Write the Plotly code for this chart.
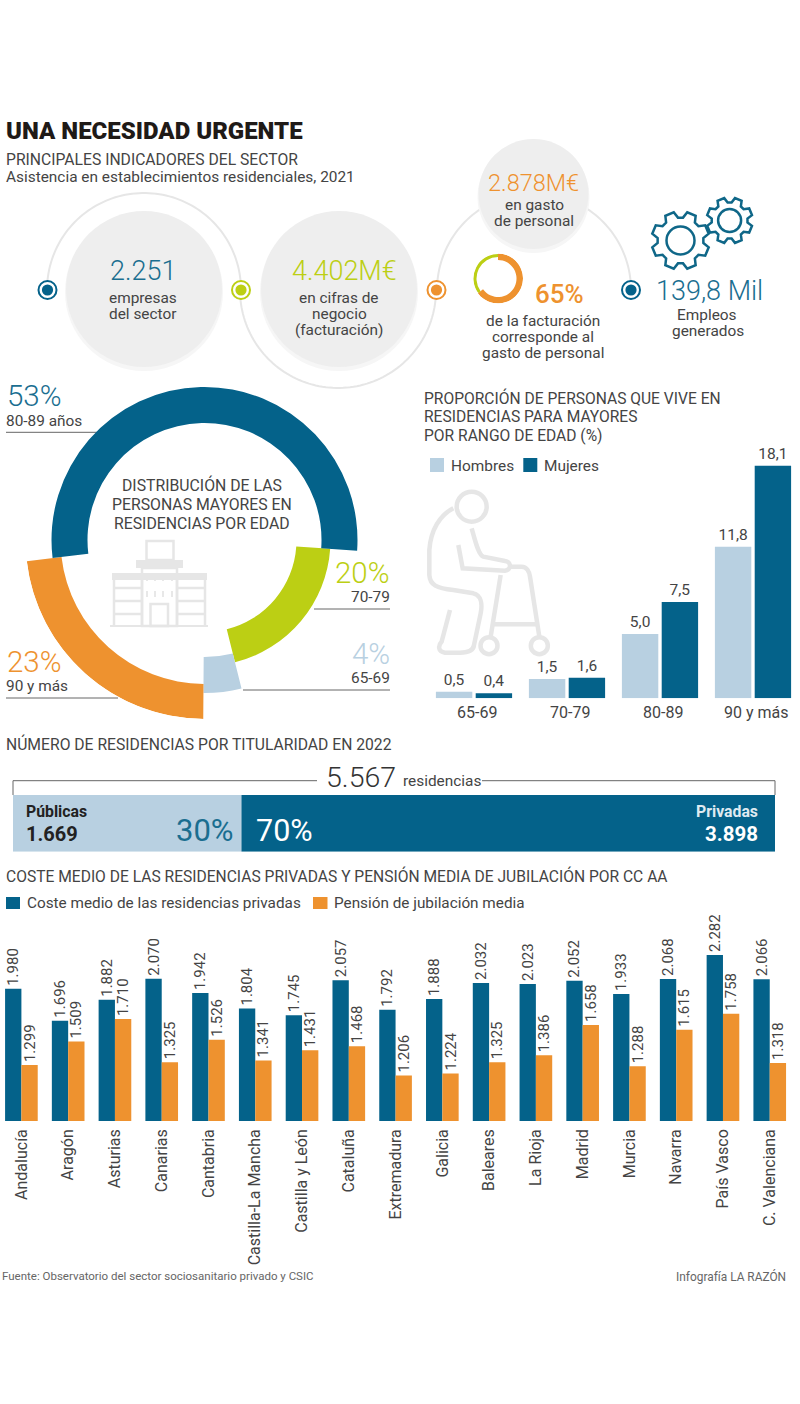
import numpy as np
import plotly.graph_objects as go

# ---------- data ----------
ring_labels = ["80-89", "70-79", "65-69", "90 y más"]
ring_shares = [53, 20, 4, 23]
ring_start_deg = 94
ring_inner = [117, 92, 117, 144]
ring_outer = [153, 126, 153, 179]

gasto_shares = [65, 35]

age_groups = ["65-69", "70-79", "80-89", "90 y más"]
hombres = [0.5, 1.5, 5.0, 11.8]
mujeres = [0.4, 1.6, 7.5, 18.1]

titular_names = ["Públicas", "Privadas"]
titular_values = [1669, 3898]

ccaa = ["Andalucía", "Aragón", "Asturias", "Canarias", "Cantabria", "Castilla-La Mancha",
        "Castilla y León", "Cataluña", "Extremadura", "Galicia", "Baleares", "La Rioja",
        "Madrid", "Murcia", "Navarra", "País Vasco", "C. Valenciana"]
coste = [1980, 1696, 1882, 2070, 1942, 1804, 1745, 2057, 1792, 1888, 2032, 2023, 2052, 1933, 2068, 2282, 2066]
pension = [1299, 1509, 1710, 1325, 1526, 1341, 1431, 1468, 1206, 1224, 1325, 1386, 1658, 1288, 1615, 1758, 1318]

# ---------- style ----------
W, H = 800, 1404
BLUE, GREEN, ORANGE, LIGHT = "#04628a", "#bccf14", "#ee922f", "#b8d0e1"
NUMBLUE = "#1a6e90"
TXT, DARK = "#444444", "#1f1a17"
GREY, ICON = "#eeeeee", "#e6e6e6"
FONT = "Roboto"
BODY = 15.4
HEAD = 15.7


def thou(v):
    return f"{v:,}".replace(",", ".")


def comma(v):
    return f"{v:.1f}".replace(".", ",")


shapes, annots = [], []


def T(x, y, s, size=BODY, color=TXT, anchor="left", weight=None):
    font = dict(family=FONT, size=size, color=color)
    if weight:
        font["weight"] = weight
    annots.append(dict(x=x, y=y, xref="x9", yref="y9", text=s, showarrow=False, xanchor=anchor,
                       yanchor="middle", borderpad=0, borderwidth=0, font=font))


def S(kind, x0, y0, x1, y1, fill=None, line=None, lw=0):
    d = dict(type=kind, xref="x9", yref="y9", x0=x0, y0=y0, x1=x1, y1=y1, layer="below",
             line=dict(width=lw, color=line or "rgba(0,0,0,0)"))
    if fill:
        d["fillcolor"] = fill
    shapes.append(d)


def C(cx, cy, r, fill=None, line=None, lw=0, ry=None):
    ry = ry or r
    S("circle", cx - r, cy - ry, cx + r, cy + ry, fill, line, lw)


def R(x0, y0, x1, y1, fill):
    S("rect", x0, y0, x1, y1, fill)


def L(x0, y0, x1, y1, color="#666666", lw=1):
    S("line", x0, y0, x1, y1, None, color, lw)


def PATH(d, color, lw, fill=None):
    s = dict(type="path", xref="x9", yref="y9", path=d, layer="below",
             line=dict(color=color, width=lw))
    if fill:
        s["fillcolor"] = fill
    shapes.append(s)


def arc(cx, cy, r, a0, a1):
    t = np.radians(np.linspace(a0, a1, 90))
    return "M" + " L".join(f"{cx + r * np.cos(a):.2f},{cy - r * np.sin(a):.2f}" for a in t)


def gear(cx, cy, ro, ri, n=8):
    pts = []
    w = 2 * np.pi / n
    for k in range(n):
        a = k * w + w / 2
        for off, r in [(-0.36, ri), (-0.2, ro), (0.2, ro), (0.36, ri)]:
            pts.append((cx + r * np.cos(a + off * w), cy + r * np.sin(a + off * w)))
    return "M" + " L".join(f"{x:.2f},{y:.2f}" for x, y in pts) + " Z"


def Z3(segs):
    out = []
    for seg in segs:
        letter, nums = seg[0], seg[1:]
        xy = [410 + v / 3 if i % 2 == 0 else 380 + v / 3 for i, v in enumerate(nums)]
        out.append(letter + " ".join(f"{v:.2f}" for v in xy))
    return " ".join(out)


# ---------- header ----------
T(6, 131, "UNA NECESIDAD URGENTE", 24, DARK, weight=900)
T(6, 159, "PRINCIPALES INDICADORES DEL SECTOR", HEAD)
T(6, 177, "Asistencia en establecimientos residenciales, 2021", BODY)

# ---------- indicator row ----------
PATH(arc(144, 290, 97, 0, 180), "#e6e6e6", 2)
PATH(arc(338, 290, 98, 180, 360), "#e6e6e6", 2)
PATH(arc(534, 290, 97, 0, 180), "#e6e6e6", 2)
for cx, cy, r in [(144, 289, 78), (339, 289, 78), (533.5, 194, 55)]:
    C(cx, cy + 3, r + 1, "#f6f6f6")
    C(cx, cy, r, GREY)
for cx, col in [(47.5, BLUE), (241, GREEN), (436.5, ORANGE), (631, BLUE)]:
    C(cx, 290, 9, "#ffffff", col, 2)
    C(cx, 290, 5.6, col)
PATH(gear(680.5, 240.5, 29, 23), "#0f6788", 2.5)
C(680.5, 240.5, 14, None, "#0f6788", 2.5)
PATH(gear(729.6, 220.5, 23, 18), "#0f6788", 2.5)
C(729.6, 220.5, 11.5, None, "#0f6788", 2.5)

T(142.5, 271, "2.251", 27, NUMBLUE, "center", 300)
T(142.5, 298, "empresas", BODY, TXT, "center")
T(142.5, 314, "del sector", BODY, TXT, "center")
T(344.5, 271, "4.402M€", 27, GREEN, "center", 300)
T(339, 298, "en cifras de", BODY, TXT, "center")
T(339, 314, "negocio", BODY, TXT, "center")
T(339, 330, "(facturación)", BODY, TXT, "center")
T(533, 183, "2.878M€", 23.5, ORANGE, "center", 300)
T(534, 205, "en gasto", BODY, TXT, "center")
T(534, 221, "de personal", BODY, TXT, "center")
T(559, 294, "65%", 26, ORANGE, "center", 500)
T(543, 321, "de la facturación", BODY, TXT, "center")
T(543, 337, "corresponde al", BODY, TXT, "center")
T(543, 353, "gasto de personal", BODY, TXT, "center")
T(709, 291, "139,8 Mil", 27, NUMBLUE, "center", 300)
T(707, 315, "Empleos", BODY, TXT, "center")
T(708, 331, "generados", BODY, TXT, "center")

# ---------- ring labels and building icon ----------
T(6.5, 396, "53%", 29.5, NUMBLUE, weight=300)
T(6, 421, "80-89 años")
L(6, 432.3, 97, 432.3)
T(390, 572.7, "20%", 29.5, GREEN, "right", 300)
T(390, 597, "70-79", BODY, TXT, "right")
L(314, 609, 390, 609)
T(390, 654, "4%", 29.5, LIGHT, "right", 300)
T(390, 678, "65-69", BODY, TXT, "right")
L(243, 690, 390, 690)
T(6.5, 661.7, "23%", 29.5, ORANGE, weight=300)
T(6, 686, "90 y más")
L(6, 698, 118, 698)
T(202, 485, "DISTRIBUCIÓN DE LAS", 15.8, TXT, "center")
T(202, 504, "PERSONAS MAYORES EN", 15.8, TXT, "center")
T(202, 523, "RESIDENCIAS POR EDAD", 15.8, TXT, "center")

S("rect", 146.5, 541, 173.5, 560, None, ICON, 2.5)
R(136, 560, 183, 568, ICON)
R(112, 573, 207, 580, ICON)
S("rect", 142, 568, 177, 626, None, ICON, 2.5)
S("rect", 150.5, 604, 168, 626, None, ICON, 2.5)
R(110, 625, 208, 627, ICON)
for x0, x1 in [(114, 142), (177, 205)]:
    S("line", x0, 580, x0, 626, None, ICON, 2.5)
    S("line", x1, 580, x1, 626, None, ICON, 2.5)
    for yy in (588, 601, 614):
        L(x0, yy, x1, yy, ICON, 2.5)
for xx in (147, 155, 163, 172):
    for yy in (575, 591):
        L(xx, yy + 0, xx, yy + 6, ICON, 1.8)

# ---------- person icon ----------
PATH(Z3([("M", 130, 385), ("C", 90, 405, 62, 450, 58, 510), ("L", 58, 585),
         ("C", 60, 615, 80, 625, 130, 630), ("L", 190, 640), ("C", 212, 645, 218, 670, 212, 700),
         ("L", 192, 795), ("C", 190, 815, 170, 818, 150, 818), ("L", 105, 818),
         ("C", 82, 815, 85, 795, 95, 785), ("L", 120, 690)]), ICON, 4.5)
PATH(Z3([("M", 145, 495), ("L", 158, 565), ("L", 285, 572), ("C", 305, 570, 305, 545, 285, 543),
         ("L", 220, 530), ("C", 205, 525, 195, 480, 185, 445)]), ICON, 4.5)
PATH(Z3([("M", 300, 560), ("L", 335, 560), ("C", 350, 560, 358, 575, 360, 590), ("L", 388, 770)]), ICON, 4.5)
PATH(Z3([("M", 272, 585), ("L", 242, 770)]), ICON, 4.5)
PATH(Z3([("M", 250, 733), ("L", 382, 733)]), ICON, 4.5)
C(410 + 237 / 3, 380 + 797 / 3, 8.5, None, ICON, 4.5)
C(410 + 388 / 3, 380 + 797 / 3, 8.5, None, ICON, 4.5)
C(410 + 185 / 3, 380 + 380 / 3, 15, None, ICON, 4.5)

T(424, 398, "PROPORCIÓN DE PERSONAS QUE VIVE EN", 15.6)
T(424, 417, "RESIDENCIAS PARA MAYORES", 15.6)
T(424, 436, "POR RANGO DE EDAD (%)", 15.6)
R(430, 458, 444, 472, LIGHT)
T(451, 466, "Hombres")
R(523.3, 458, 537.3, 472, BLUE)
T(544, 466, "Mujeres")

# ---------- ownership header ----------
T(6, 744, "NÚMERO DE RESIDENCIAS POR TITULARIDAD EN 2022", HEAD)
PATH("M317,780.7 L13,780.7 L13,795", "#666666", 1)
PATH("M482,780.7 L775,780.7 L775,795", "#666666", 1)
T(361, 777, thou(sum(titular_values)), 28.5, "#333333", "center", 300)
T(442, 781, "residencias", 15.4, TXT, "center")
T(25.5, 811, titular_names[0], 15.8, "#222222", weight=700)
T(25.5, 834, thou(titular_values[0]), 20, "#222222", weight=700)
T(234, 830, f"{titular_values[0] / sum(titular_values) * 100:.0f}%", 31, NUMBLUE, "right", 400)
T(256, 830, f"{titular_values[1] / sum(titular_values) * 100:.0f}%", 30.5, "#ffffff", weight=400)
T(758, 811, titular_names[1], 15.8, "#dfeaf1", "right", 700)
T(758, 834, thou(titular_values[1]), 20.5, "#ffffff", "right", 700)

# ---------- regional header and footer ----------
T(6, 876, "COSTE MEDIO DE LAS RESIDENCIAS PRIVADAS Y PENSIÓN MEDIA DE JUBILACIÓN POR CC AA", 15.6)
R(6, 897, 20, 909, BLUE)
T(27, 903, "Coste medio de las residencias privadas", 15.3)
R(313, 897, 327.5, 909, ORANGE)
T(334, 903, "Pensión de jubilación media", 15.3)
T(2, 1276, "Fuente: Observatorio del sector sociosanitario privado y CSIC", 11.5, "#666666")
T(786, 1276, "Infografía LA RAZÓN", 11.9, "#666666", "right")

# ---------- traces ----------
fig = go.Figure()
fig.add_trace(go.Scatter(x=[None], y=[None], xaxis="x9", yaxis="y9", showlegend=False, hoverinfo="skip"))

# main ring
order = [1, 2, 3, 0]
start = ring_start_deg
thetas, widths, rs, bases, cols = [], [], [], [], []
ring_cols = [BLUE, GREEN, LIGHT, ORANGE]
for i in order:
    w = ring_shares[i] * 3.6
    thetas.append(start + w / 2)
    widths.append(w)
    rs.append(ring_outer[i] - ring_inner[i])
    bases.append(ring_inner[i])
    cols.append(ring_cols[i])
    start += w
fig.add_trace(go.Barpolar(theta=thetas, width=widths, r=rs, base=bases, marker=dict(color=cols, line=dict(width=0)),
                          subplot="polar", showlegend=False, hoverinfo="skip"))

# small ring
g_w = [s * 3.6 for s in gasto_shares]
fig.add_trace(go.Barpolar(theta=[g_w[0] / 2, g_w[0] + g_w[1] / 2], width=g_w, r=[6.5, 3], base=[18.5, 21.5],
                          marker=dict(color=[ORANGE, GREEN], line=dict(width=0)),
                          subplot="polar2", showlegend=False, hoverinfo="skip"))

# age bars
fig.add_trace(go.Bar(x=age_groups, y=hombres, name="Hombres", marker=dict(color=LIGHT, line=dict(width=0)),
                     text=[comma(v) for v in hombres], textposition="outside", cliponaxis=False,
                     textfont=dict(family=FONT, size=15.5, color=TXT), xaxis="x", yaxis="y", showlegend=False))
fig.add_trace(go.Bar(x=age_groups, y=mujeres, name="Mujeres", marker=dict(color=BLUE, line=dict(width=0)),
                     text=[comma(v) for v in mujeres], textposition="outside", cliponaxis=False,
                     textfont=dict(family=FONT, size=15.5, color=TXT), xaxis="x", yaxis="y", showlegend=False))

# ownership bar
for name, val, col in zip(titular_names, titular_values, [LIGHT, BLUE]):
    fig.add_trace(go.Bar(y=["t"], x=[val], orientation="h", name=name, marker=dict(color=col, line=dict(width=0)),
                         xaxis="x2", yaxis="y2", showlegend=False, width=1))

# regional bars
fig.add_trace(go.Bar(x=ccaa, y=coste, name="Coste medio", marker=dict(color=BLUE, line=dict(width=0)),
                     text=[thou(v) for v in coste], textposition="outside", textangle=-90, cliponaxis=False,
                     constraintext="none", textfont=dict(family=FONT, size=15, color=TXT),
                     xaxis="x3", yaxis="y3", showlegend=False))
fig.add_trace(go.Bar(x=ccaa, y=pension, name="Pensión", marker=dict(color=ORANGE, line=dict(width=0)),
                     text=[thou(v) for v in pension], textposition="outside", textangle=-90, cliponaxis=False,
                     constraintext="none", textfont=dict(family=FONT, size=15, color=TXT),
                     xaxis="x3", yaxis="y3", showlegend=False))


def dy(top, bottom):
    return [1 - bottom / H, 1 - top / H]


def dx(left, right):
    return [left / W, right / W]


hidden = dict(visible=False, showgrid=False, zeroline=False, fixedrange=True)
fig.update_layout(
    width=W, height=H, autosize=False,
    margin=dict(l=0, r=0, t=0, b=0, pad=0),
    paper_bgcolor="#ffffff", plot_bgcolor="rgba(0,0,0,0)",
    font=dict(family=FONT, color=TXT), showlegend=False, hovermode=False,
    shapes=shapes, annotations=annots,
    xaxis9=dict(range=[0, W], domain=[0, 1], anchor="y9", **hidden),
    yaxis9=dict(range=[H, 0], domain=[0, 1], anchor="x9", **hidden),
    polar=dict(domain=dict(x=dx(25.5, 383.5), y=dy(361, 719)), bgcolor="rgba(0,0,0,0)",
               radialaxis=dict(visible=False, range=[0, 179]),
               angularaxis=dict(visible=False, rotation=90, direction="clockwise"),
               barmode="overlay"),
    polar2=dict(domain=dict(x=dx(473, 523), y=dy(253.5, 303.5)), bgcolor="rgba(0,0,0,0)",
                radialaxis=dict(visible=False, range=[0, 25]),
                angularaxis=dict(visible=False, rotation=90, direction="clockwise"),
                barmode="overlay"),
    xaxis=dict(domain=dx(427.5, 799.5), anchor="y", showgrid=False, zeroline=False, showline=False,
               ticks="", fixedrange=True, tickmode="array", ticklabelstandoff=3,
               tickvals=[i + 0.035 for i in range(len(age_groups))], ticktext=age_groups,
               tickfont=dict(family=FONT, size=16, color=TXT)),
    yaxis=dict(domain=dy(441.3, 698.3), anchor="x", range=[0, 20], **hidden),
    xaxis2=dict(domain=dx(13, 775), anchor="y2", range=[0, sum(titular_values)], **hidden),
    yaxis2=dict(domain=dy(795, 851.7), anchor="x2", range=[-0.5, 0.5], **hidden),
    xaxis3=dict(domain=[0, 1], anchor="y3", range=[-0.4576, 16.647], showgrid=False, zeroline=False,
                showline=False, ticks="", tickangle=-90, ticklabelstandoff=4,
                fixedrange=True, tickfont=dict(family=FONT, size=16, color=TXT), automargin=False),
    yaxis3=dict(domain=dy(930, 1121), anchor="x3", range=[800, 2505], **hidden),
    barmode="group", bargap=0.30, bargroupgap=0,
)
# per-chart bar geometry
fig.data[3].update(width=36.4 / 93, offset=-(36.4 + 1.7) / 93)
fig.data[4].update(width=36.4 / 93, offset=1.7 / 93)
fig.data[5].update(offsetgroup="a", base=0)
fig.data[6].update(offsetgroup="a", base=fig.data[5].x[0])
fig.data[7].update(width=0.349, offset=-0.349)
fig.data[8].update(width=0.349, offset=0)

fig.write_html("out.html", config=dict(displayModeBar=False),
               post_script="document.body.style.margin='0';document.body.style.overflow='hidden';")
